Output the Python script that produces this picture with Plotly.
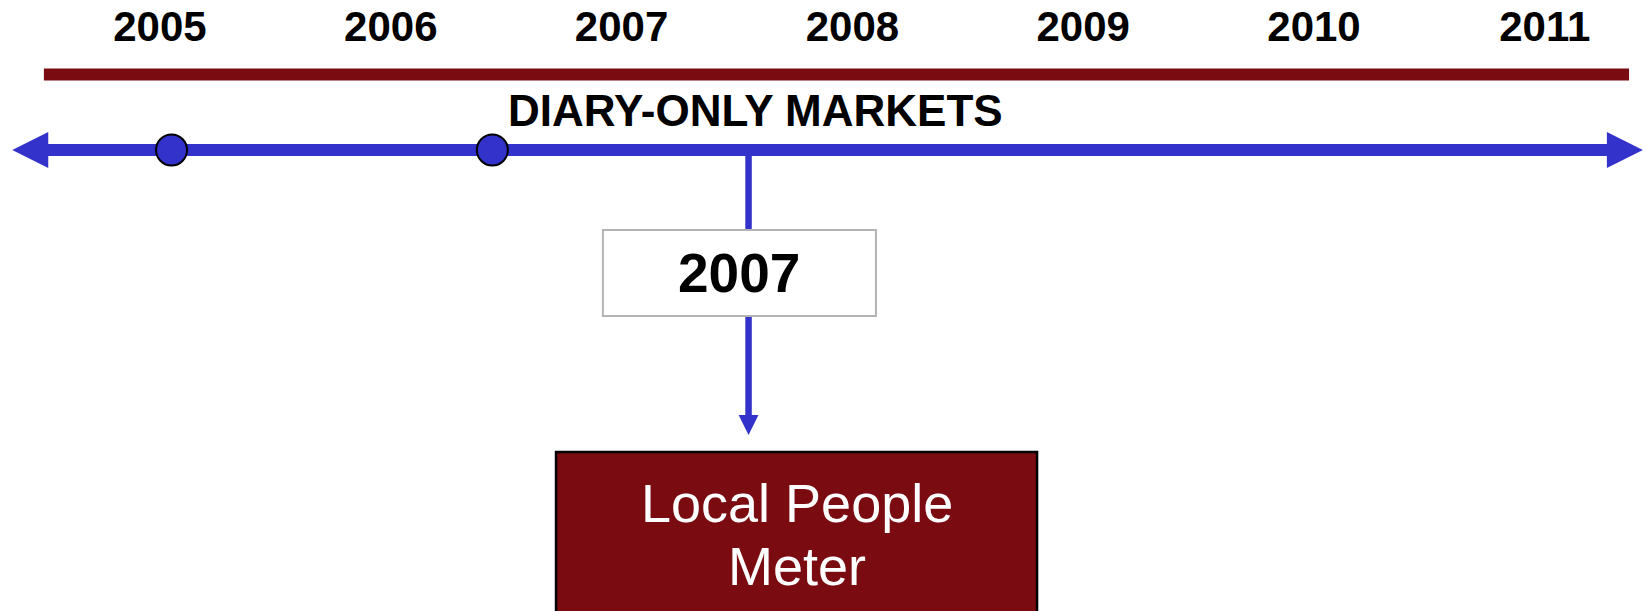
import plotly.graph_objects as go

# data
years = [2005, 2006, 2007, 2008, 2009, 2010, 2011]
year_labels = [str(y) for y in years]
diary_events = [2005.05, 2006.44]      # dots on the diary-only timeline
lpm_year = 2007.55                     # switch to Local People Meter
lpm_label = "2007"
band_label = "DIARY-ONLY MARKETS"
lpm_text = ["Local People", "Meter"]

BLUE = "#3333cc"
RED = "#7a0b10"
FONT = "Liberation Sans"

fig = go.Figure()

# dark red band under the years
fig.add_trace(go.Scatter(
    x=[2004.497, 2011.365], y=[74.5, 74.5], mode="lines",
    line=dict(color=RED, width=12), hoverinfo="skip"))

# blue timeline with arrow heads
fig.add_trace(go.Scatter(
    x=[2004.5, 2011.28], y=[150, 150], mode="lines",
    line=dict(color=BLUE, width=12), hoverinfo="skip"))
head = 0.156
fig.add_trace(go.Scatter(
    x=[2004.36, 2004.36 + head, 2004.36 + head, 2004.36],
    y=[150, 132, 168, 150], mode="lines", fill="toself",
    fillcolor=BLUE, line=dict(color=BLUE, width=0), hoverinfo="skip"))
fig.add_trace(go.Scatter(
    x=[2011.425, 2011.425 - head, 2011.425 - head, 2011.425],
    y=[150, 132, 168, 150], mode="lines", fill="toself",
    fillcolor=BLUE, line=dict(color=BLUE, width=0), hoverinfo="skip"))

# drop line to the LPM box
fig.add_trace(go.Scatter(
    x=[lpm_year, lpm_year], y=[150, 418], mode="lines",
    line=dict(color=BLUE, width=6.5), hoverinfo="skip"))
fig.add_trace(go.Scatter(
    x=[lpm_year - 0.043, lpm_year + 0.043, lpm_year, lpm_year - 0.043],
    y=[415, 415, 435, 415], mode="lines", fill="toself",
    fillcolor=BLUE, line=dict(color=BLUE, width=0), hoverinfo="skip"))

# event dots
fig.add_trace(go.Scatter(
    x=diary_events, y=[150] * len(diary_events), mode="markers",
    marker=dict(size=31, color=BLUE, line=dict(color="black", width=2)),
    hoverinfo="skip"))

# year labels
fig.add_trace(go.Scatter(
    x=years, y=[30] * len(years), mode="text", text=year_labels,
    textposition="middle center",
    textfont=dict(family=FONT, size=42, color="black", weight="bold"),
    hoverinfo="skip"))

# boxes
fig.add_shape(type="rect", x0=2006.919, x1=2008.102, y0=230, y1=316,
              xref="x", yref="y", fillcolor="white",
              line=dict(color="#b4b4b4", width=2), layer="above")
fig.add_shape(type="rect", x0=2006.716, x1=2008.800, y0=452, y1=640,
              xref="x", yref="y", fillcolor=RED,
              line=dict(color="black", width=2.5), layer="above")

fig.add_annotation(x=2007.58, y=110, text=band_label, showarrow=False,
                   font=dict(family=FONT, size=44, color="black", weight="bold"))
fig.add_annotation(x=2007.509, y=273, text=lpm_label, showarrow=False,
                   font=dict(family=FONT, size=55, color="black", weight="bold"))
fig.add_annotation(x=2007.76, y=503, text=lpm_text[0], showarrow=False,
                   font=dict(family=FONT, size=54, color="white"))
fig.add_annotation(x=2007.76, y=566, text=lpm_text[1], showarrow=False,
                   font=dict(family=FONT, size=54, color="white"))

fig.update_xaxes(visible=False, range=[2004.3068, 2011.4428])
fig.update_yaxes(visible=False, range=[611, 0])
fig.update_layout(
    width=1647, height=611,
    margin=dict(l=0, r=0, t=0, b=0),
    paper_bgcolor="white", plot_bgcolor="white",
    showlegend=False,
)

fig.write_html("out.html", config={"displayModeBar": False},
               post_script="document.body.style.margin='0';document.body.style.overflow='hidden';")
